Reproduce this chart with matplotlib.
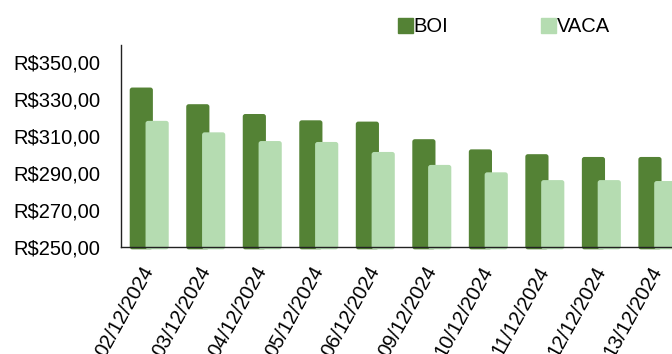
import matplotlib
matplotlib.use('Agg')
import matplotlib.pyplot as plt
from matplotlib.patches import FancyBboxPatch, Patch
from matplotlib.ticker import FuncFormatter
import numpy as np

# cotações diárias (R$/@)
datas = ['02/12/2024', '03/12/2024', '04/12/2024', '05/12/2024', '06/12/2024',
         '09/12/2024', '10/12/2024', '11/12/2024', '12/12/2024', '13/12/2024']
boi = [336.0, 327.0, 321.7, 318.3, 317.6, 308.1, 302.6, 300.0, 298.5, 298.5]
vaca = [318.0, 311.8, 307.1, 306.6, 301.2, 294.2, 290.2, 286.0, 286.0, 285.5]

cor_boi = '#548235'
cor_vaca = '#B5DCB1'

plt.rcParams['font.family'] = ['Liberation Sans', 'DejaVu Sans']
plt.rcParams['font.size'] = 14.5

fig = plt.figure(figsize=(6.72, 3.54), dpi=100)
ax = fig.add_axes([0.18, 0.303, 0.82, 0.57])

x = np.arange(len(datas))
w = 0.41
base = 248.6  # barras passam um pouco abaixo do eixo

for off, vals, cor in [(-0.14, boi, cor_boi), (0.14, vaca, cor_vaca)]:
    bars = ax.bar(x + off, np.array(vals) - base, w, bottom=base, color=cor)
    # troca os retangulos por versoes com cantos arredondados
    for r in bars.patches:
        p = FancyBboxPatch((r.get_x(), r.get_y()), r.get_width(), r.get_height(),
                           boxstyle='round,pad=0,rounding_size=0.045',
                           mutation_aspect=30, fc=cor, ec='none', clip_on=False)
        ax.add_patch(p)
        r.remove()

ax.set_xlim(-0.5, 9.25)
ax.set_ylim(250, 359)
ax.set_yticks(np.arange(250, 351, 20))
ax.yaxis.set_major_formatter(FuncFormatter(lambda v, p: 'R$' + f'{v:.2f}'.replace('.', ',')))
ax.set_xticks(x)
ax.set_xticklabels(datas, rotation=61, ha='right', va='center', rotation_mode='anchor')
ax.tick_params(length=0)
ax.tick_params(axis='y', pad=15)
ax.tick_params(axis='x', pad=15)

for s in ['top', 'right']:
    ax.spines[s].set_visible(False)
for s in ['left', 'bottom']:
    ax.spines[s].set_color('#222222')
    ax.spines[s].set_linewidth(1)

handles = [Patch(color=cor_boi, label='BOI'), Patch(color=cor_vaca, label='VACA')]
fig.legend(handles=handles, loc='center', bbox_to_anchor=(0.75, 0.924), ncol=2,
           frameon=False, handlelength=0.75, handleheight=0.75, handletextpad=0.05,
           columnspacing=4.6, borderpad=0)

fig.savefig('out.png', dpi=100)
